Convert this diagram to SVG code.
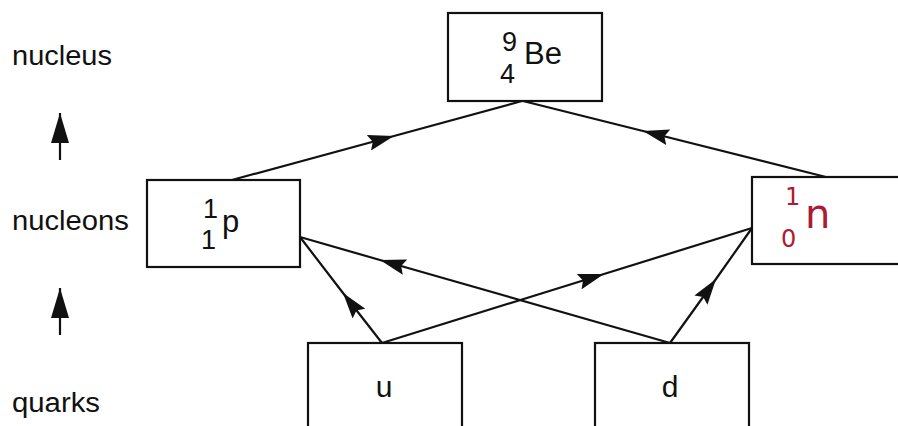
<svg xmlns="http://www.w3.org/2000/svg" width="898" height="426" viewBox="0 0 898 426">
<style>
.box{fill:#fff;stroke:#111;stroke-width:2.2}
.t{font-family:"Liberation Sans",Arial,sans-serif;fill:#111}
.lbl{font-family:"Liberation Sans",Arial,sans-serif;fill:#111;font-size:27px}
.hand{font-family:"DejaVu Sans","Liberation Sans",sans-serif;fill:#ad1a34}
.con{fill:none;stroke:#111;stroke-width:2.2;marker-mid:url(#ah)}
</style>
<defs>
<marker id="ah" viewBox="0 0 26 16" refX="26" refY="8" markerWidth="26" markerHeight="16" markerUnits="userSpaceOnUse" orient="auto">
<path d="M0,0 L26,8 L0,16 L4,8 Z" fill="#111"/>
</marker>
<marker id="ahl" viewBox="0 0 30 18" refX="30" refY="9" markerWidth="30" markerHeight="18" markerUnits="userSpaceOnUse" orient="auto">
<path d="M0,0 L30,9 L0,18 Z" fill="#111"/>
</marker>
</defs>
<rect width="898" height="426" fill="#fff"/>

<g id="levels">
<text class="lbl" x="12" y="65" textLength="100" lengthAdjust="spacingAndGlyphs">nucleus</text>
<text class="lbl" x="12" y="230" textLength="117" lengthAdjust="spacingAndGlyphs">nucleons</text>
<text class="lbl" x="12" y="412" textLength="88" lengthAdjust="spacingAndGlyphs">quarks</text>
<line x1="60" y1="160" x2="60" y2="113" stroke="#111" stroke-width="2.2" marker-end="url(#ahl)"/>
<line x1="60" y1="335" x2="60" y2="288" stroke="#111" stroke-width="2.2" marker-end="url(#ahl)"/>
</g>

<g id="connectors">
<polyline class="con" points="232,180 394,136 522,101"/>
<polyline class="con" points="826,177 643,131 523,101"/>
<polyline class="con" points="382,343 343,293 300,237"/>
<polyline class="con" points="382,343 604,274 752,228"/>
<polyline class="con" points="670,343 380,260 300,237"/>
<polyline class="con" points="670,343 716,279 752,228"/>
</g>

<g id="be">
<rect class="box" x="448" y="13" width="154" height="88"/>
<text class="t" x="502" y="51" font-size="27">9</text>
<text class="t" x="500" y="83" font-size="27">4</text>
<text class="t" x="524" y="64" font-size="31">Be</text>
</g>

<g id="proton">
<rect class="box" x="147" y="180" width="153" height="87"/>
<text class="t" x="203" y="218" font-size="27">1</text>
<text class="t" x="201" y="249" font-size="27">1</text>
<text class="t" x="222" y="232" font-size="31">p</text>
</g>

<g id="neutron">
<rect class="box" x="752" y="177" width="160" height="87"/>
<text class="hand" x="785" y="205" font-size="24">1</text>
<text class="hand" x="781" y="247" font-size="24">0</text>
<text class="hand" x="805" y="228" font-size="40">n</text>
</g>

<g id="u">
<rect class="box" x="308" y="343" width="154" height="100"/>
<text class="t" x="384" y="397" font-size="30" text-anchor="middle">u</text>
</g>

<g id="d">
<rect class="box" x="595" y="343" width="154" height="100"/>
<text class="t" x="670" y="397" font-size="30" text-anchor="middle">d</text>
</g>
</svg>
